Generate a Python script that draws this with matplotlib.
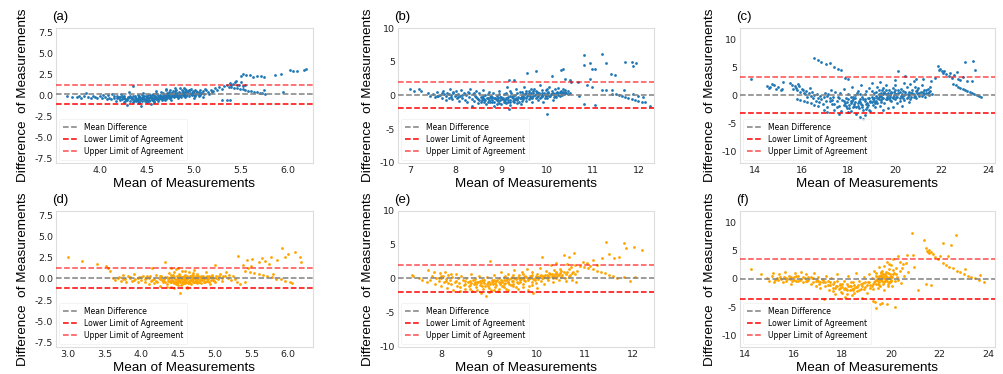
import matplotlib
matplotlib.use("Agg")
import matplotlib.pyplot as plt

plt.rcParams["axes.unicode_minus"] = False

# ---------------- data ----------------
pts_a = [
    (3.65,-0.1),(3.7,-0.15),(3.75,-0.2),(3.78,-0.05),(3.8,-0.25),(3.83,-0.1),(3.85,0.3),(3.87,-0.2),(3.9,-0.3),
    (3.92,0.0),(3.95,-0.15),(3.97,-0.35),(4.0,-0.1),(4.02,-0.3),(4.03,0.1),(4.05,-0.2),(4.07,-0.45),(4.08,0.05),
    (4.1,-0.25),(4.12,-0.4),(4.13,0.15),(4.15,-0.1),(4.17,-0.6),(4.18,-0.3),(4.2,-0.15),(4.21,-0.5),(4.22,0.2),
    (4.24,-0.35),(4.25,-0.8),(4.26,-0.05),(4.28,-0.45),(4.29,-1.1),(4.3,-0.2),(4.31,0.4),(4.32,-0.6),(4.33,-0.3),
    (4.35,1.1),(4.35,-0.1),(4.36,-0.5),(4.38,-0.7),(4.38,-0.25),(4.4,-0.4),(4.4,0.1),(4.41,-0.9),(4.42,-0.15),
    (4.43,-0.55),(4.44,-1.3),(4.45,-0.3),(4.46,0.3),(4.47,-0.45),(4.48,-0.65),(4.49,-0.1),(4.5,-0.35),(4.5,-0.8),
    (4.51,0.05),(4.52,-0.5),(4.53,-0.2),(4.54,-1.0),(4.55,-0.4),(4.56,0.2),(4.57,-0.6),(4.58,-0.25),(4.59,-0.05),
    (4.6,-0.45),(4.6,0.5),(4.61,-0.3),(4.62,-0.7),(4.63,-0.1),(4.64,0.1),(4.65,-0.35),(4.66,-0.55),(4.67,0.3),
    (4.68,-0.2),(4.69,0.0),(4.7,-0.4),(4.7,0.6),(4.71,-0.15),(4.72,0.2),(4.73,-0.3),(4.74,0.4),(4.75,-0.05),
    (4.76,-0.5),(4.77,0.1),(4.78,0.5),(4.79,-0.2),(4.8,0.3),(4.8,-0.1),(4.81,0.7),(4.82,0.0),(4.83,-0.3),
    (4.84,0.45),(4.85,0.15),(4.86,-0.15),(4.87,0.6),(4.88,0.25),(4.89,0.9),(4.9,0.05),(4.9,0.4),(4.91,-0.2),
    (4.92,0.7),(4.93,0.2),(4.94,0.5),(4.95,-0.1),(4.96,0.35),(4.97,0.8),(4.98,0.1),(4.99,0.55),(5.0,0.3),
    (5.0,-0.3),(5.01,0.65),(5.02,0.15),(5.03,0.45),(5.05,0.0),(5.06,0.6),(5.08,0.25),(5.1,0.5),(5.1,-0.2),
    (5.12,0.8),(5.15,0.4),(5.18,0.7),(5.2,0.55),(5.22,0.9),(5.25,0.65),(5.27,1.0),(5.3,0.8),(5.32,1.1),
    (5.35,1.3),(5.37,1.0),(5.38,1.5),(5.4,1.2),(5.42,1.4),(5.44,1.6),(5.46,1.3),(5.45,1.7),(5.5,1.55),
    (5.48,1.2),(5.52,1.1),(5.55,1.3),(5.3,-0.5),(5.35,-0.55),(5.38,-0.5),
    (5.5,2.3),(5.52,2.55),(5.56,2.4),(5.6,2.45),(5.63,2.2),(5.67,2.35),(5.72,2.3),(5.75,2.25),
    (5.75,0.6),(5.95,0.4),(5.93,2.5),(5.87,2.4),(6.02,3.0),(6.06,2.85),(6.1,2.9),(6.17,3.05),(6.2,3.1),
    (5.40,0.95),(5.43,0.9),(5.46,0.85),(5.49,0.78),(5.52,0.72),(5.55,0.65),(5.58,0.58),(5.61,0.52),
    (5.64,0.45),(5.67,0.38),(5.70,0.32),(5.73,0.26),(5.76,0.2),
    (4.21,-0.2),(4.23,-0.4),(4.26,-0.25),(4.29,-0.5),(4.31,-0.15),(4.34,-0.4),(4.37,-0.3),(4.39,-0.55),
    (4.41,-0.2),(4.43,-0.35),(4.45,-0.6),(4.46,-0.15),(4.48,-0.4),(4.5,-0.2),(4.52,-0.3),(4.54,-0.15),
    (4.55,-0.5),(4.57,-0.35),(4.59,-0.2),(4.61,-0.45),(4.62,-0.1),(4.64,-0.3),(4.65,-0.15),(4.67,-0.4),
    (4.68,0.05),(4.7,-0.25),(4.72,-0.05),(4.73,0.15),(4.75,-0.3),(4.76,0.25),(4.78,-0.1),(4.79,0.1),
    (4.81,-0.05),(4.82,0.35),(4.84,0.1),(4.85,-0.1),(4.87,0.3),(4.88,0.05),(4.9,0.2),(4.92,0.0),(4.93,0.45),
    (4.95,0.15),(4.96,0.6),(4.98,0.3),(5.0,0.1),(5.02,0.5),(5.04,0.2),(4.55,0.1),(4.6,0.25),(4.65,0.4),
    (4.45,0.05),(4.4,-0.65),(4.35,-0.75),(4.5,-0.6),(4.58,-0.75),(4.7,0.8),(4.75,0.7),(4.8,0.9),(4.85,0.85),
    (4.9,0.75),
    (4.15,-0.3),(4.18,-0.1),(4.2,-0.35),(4.23,-0.05),(4.25,-0.3),(4.27,-0.6),(4.3,-0.35),(4.32,-0.05),
    (4.34,-0.25),(4.36,-0.6),(4.37,0.0),(4.39,-0.4),(4.41,-0.05),(4.42,-0.75),(4.44,-0.25),(4.46,-0.45),
    (4.47,-0.05),(4.49,-0.5),(4.51,-0.25),(4.52,-0.7),(4.53,0.1),(4.55,-0.25),(4.56,-0.5),(4.58,0.0),
    (4.6,-0.3),(4.61,0.15),(4.63,-0.4),(4.64,-0.2),(4.66,0.0),(4.67,-0.3),(4.69,-0.5),(4.7,0.05),(4.71,0.35),
    (4.73,-0.15),(4.74,0.05),(4.76,-0.2),(4.77,0.3),(4.79,0.0),(4.8,0.5),(4.82,0.2),(4.83,-0.15),(4.85,0.35),
    (4.86,0.05),(4.88,0.5),(4.89,-0.1),(4.91,0.3),(4.92,0.1),(4.94,0.3),(4.95,0.6),(4.97,0.2),(4.99,0.4),
    (5.01,0.0),(5.03,0.25),(5.05,0.4),(5.07,0.1),(5.09,0.35),(5.11,0.15),(5.13,0.6),(5.16,0.2),(5.19,0.45),
]

pts_b = [
    (7.0,1.0),(7.1,0.7),(7.2,0.9),(7.25,0.6),(7.4,0.3),(7.45,0.0),(7.5,0.2),(7.55,-0.2),(7.6,0.5),(7.62,-0.1),
    (7.65,0.1),(7.7,-0.4),(7.72,0.7),(7.75,0.2),(7.78,-0.6),(7.8,0.0),(7.82,0.4),(7.85,-0.3),(7.88,0.9),(7.9,0.1),
    (7.92,-0.5),(7.95,0.3),(7.98,-0.1),(8.0,0.6),(8.02,-0.4),(8.05,0.2),(8.08,-0.8),(8.1,0.0),(8.12,0.8),
    (8.15,-0.3),(8.18,0.4),(8.2,-0.6),(8.22,0.1),(8.25,-1.0),(8.28,0.5),(8.3,-0.2),(8.32,0.9),(8.35,-0.5),
    (8.36,-1.6),(8.38,0.2),(8.4,-0.8),(8.42,0.0),(8.45,0.6),(8.47,-0.4),(8.5,-1.1),(8.52,0.3),(8.55,-0.2),
    (8.57,-0.7),(8.6,0.8),(8.62,-0.5),(8.65,0.1),(8.67,-1.3),(8.7,-0.3),(8.72,0.5),(8.75,-0.9),(8.77,-0.1),
    (8.8,-0.6),(8.82,0.3),(8.85,-1.5),(8.87,-0.4),(8.9,0.0),(8.92,-0.8),(8.95,0.6),(8.97,-0.2),(9.0,-1.2),
    (9.02,-0.5),(9.05,0.2),(9.07,-0.9),(9.1,-0.3),(9.12,1.2),(9.15,-0.6),(9.16,-2.0),(9.18,0.0),(9.2,-1.4),
    (9.22,0.4),(9.25,-0.4),(9.27,-1.0),(9.3,0.1),(9.32,0.9),(9.35,-0.7),(9.37,-0.2),(9.4,0.5),(9.42,-1.2),
    (9.45,0.0),(9.47,-0.5),(9.5,1.3),(9.52,0.2),(9.55,-0.8),(9.57,-0.1),(9.6,0.7),(9.62,-0.4),(9.65,0.3),
    (9.67,-1.0),(9.7,0.0),(9.72,1.0),(9.75,-0.3),(9.77,0.5),(9.8,-0.6),(9.82,0.2),(9.85,1.5),(9.87,-0.2),
    (9.9,0.4),(9.92,-0.9),(9.95,0.1),(9.97,0.8),(10.0,-0.4),(10.02,0.3),(10.05,1.2),(10.07,-0.1),(10.1,0.6),
    (10.12,-0.6),(10.15,0.2),(10.18,0.9),(10.2,-0.2),(10.22,0.5),(10.25,1.1),(10.28,0.0),(10.3,0.7),
    (10.33,0.3),(10.36,0.9),(10.4,0.5),(10.45,0.2),
    (9.16,2.35),(9.27,2.25),(9.56,3.35),(9.75,3.6),(10.11,2.85),(10.3,3.75),(10.36,3.9),(10.4,2.4),(10.5,2.25),
    (10.8,5.95),(10.8,4.5),(10.95,4.75),(10.98,4.0),(11.05,4.0),(11.2,6.15),(11.3,4.75),(11.4,3.15),(11.48,3.0),
    (11.7,4.9),(11.85,4.9),(11.89,4.4),(11.95,4.75),(10.53,2.0),(10.68,2.0),(10.87,1.5),(10.95,2.5),(10.98,1.25),
    (11.2,0.85),(11.28,0.75),(11.43,0.85),(11.68,0.75),(11.89,0.25),(12.0,0.0),(12.1,-0.25),(12.25,-1.5),
    (10.8,-1.25),(11.06,-1.35),(10.0,-2.75),(10.7,0.0),
    (11.43,0.25),(11.5,0.15),(11.57,0.05),(11.64,-0.05),(11.71,-0.15),(11.78,-0.3),(11.85,-0.45),
    (11.92,-0.6),(12.0,-0.75),(12.08,-0.9),(12.15,-1.0),
    (8.5,-0.5),(8.55,-0.9),(8.6,-0.1),(8.65,-0.6),(8.7,-1.0),(8.75,-0.2),(8.8,-0.9),(8.85,-0.3),(8.9,-0.7),
    (8.95,-1.1),(9.0,-0.2),(9.05,-0.7),(9.1,-1.1),(9.15,-0.2),(9.2,-0.7),(9.25,0.0),(9.3,-0.5),(9.35,-1.1),
    (9.4,-0.3),(9.45,-0.8),(9.5,-0.2),(9.55,0.4),(9.6,-0.5),(9.65,-0.2),(9.7,0.4),(9.75,0.2),(9.8,0.0),
    (9.85,-0.4),(9.9,0.1),(9.95,-0.3),(10.0,0.3),(10.05,0.0),(10.1,0.2),(10.15,-0.2),(10.2,0.4),(10.25,0.1),
    (10.3,0.3),(9.55,0.7),(9.65,0.9),(9.75,0.7),(9.9,0.8),(10.0,1.0),(9.45,0.5),(9.35,0.4),(9.2,0.6),
    (9.1,0.3),(8.95,0.2),(8.7,0.2),(8.4,0.4),(8.2,0.2),(8.0,0.1),(7.9,-0.2),(10.35,0.5),(10.4,0.8),
    (10.45,0.6),(10.5,0.4),
    (8.52,-0.7),(8.58,-0.3),(8.63,-0.9),(8.68,-0.4),(8.73,-0.7),(8.78,-0.4),(8.83,-1.0),(8.88,-0.5),
    (8.93,-0.4),(8.98,-0.7),(9.03,-0.3),(9.08,-0.6),(9.13,-0.4),(9.18,-0.9),(9.23,-0.2),(9.28,-0.6),
    (9.33,-0.3),(9.38,-0.9),(9.43,-0.4),(9.48,0.2),(9.53,-0.4),(9.58,0.1),(9.63,0.0),(9.68,-0.4),(9.73,0.1),
    (9.78,-0.2),(9.83,0.3),(9.88,0.0),(9.93,0.3),(9.98,-0.1),(10.03,0.5),(10.08,0.2),(10.13,0.4),(10.18,0.0),
    (10.23,0.3),(10.28,0.5),(10.33,0.1),(10.38,0.2),(9.6,0.4),(9.7,0.6),(9.8,0.4),(9.9,-0.1),(10.0,0.1),
    (9.45,-0.2),(9.35,-0.5),(9.25,-0.8),(9.15,-1.0),(9.05,-1.0),(8.9,-1.2),(8.8,-0.2),(8.6,-0.4),(8.45,-0.2),
    (8.3,0.3),(8.15,0.1),(8.05,-0.2),(7.95,0.5),(7.85,0.2),(7.7,0.3),(7.6,0.0),(10.42,0.3),
]

pts_c = [
    (13.85,3.0),(14.5,1.65),(14.6,1.3),(14.65,1.5),(14.75,2.0),(14.8,1.9),(14.9,1.2),(15.0,1.5),(15.1,1.0),
    (15.15,1.2),(15.2,2.4),(15.5,2.2),(15.6,1.8),(15.65,1.2),(15.7,1.65),(15.75,1.4),(15.8,0.9),(15.85,2.0),
    (15.9,1.75),(15.95,0.7),(16.0,1.2),(16.05,1.05),(16.1,0.5),(16.15,0.2),(16.2,0.8),(16.25,-0.3),(16.3,0.4),
    (16.35,1.3),(16.4,-0.1),(16.45,0.6),(16.5,-0.5),(16.55,0.1),(16.6,-0.9),(16.65,0.3),(16.7,-0.4),
    (16.75,-1.2),(16.8,0.0),(16.85,-0.7),(16.9,-1.5),(16.95,-0.2),
    (15.8,-0.6),(15.95,-0.8),(16.1,-1.0),(16.25,-1.2),(16.4,-1.4),(16.55,-1.7),(16.7,-1.9),
    (16.55,6.7),(16.7,6.3),(16.85,6.0),(17.05,5.6),(17.2,5.7),(17.4,5.0),(17.55,4.8),(17.7,4.6),(17.85,3.2),(18.0,2.9),
    (17.0,0.5),(17.05,-1.0),(17.1,-2.0),(17.15,0.2),(17.2,-0.5),(17.25,1.0),(17.3,-1.5),(17.35,-0.2),(17.4,-2.5),
    (17.45,0.6),(17.5,-1.0),(17.55,-0.3),(17.6,-1.8),(17.65,0.4),(17.7,-2.8),(17.75,-0.8),(17.8,1.2),
    (17.85,-1.3),(17.9,-0.4),(17.95,-2.2),(18.0,0.2),(18.05,-1.6),(18.1,-0.9),(18.12,-2.7),(18.15,1.5),
    (18.2,-0.6),(18.25,-1.9),(18.3,-1.1),(18.35,-3.3),(18.38,0.4),(18.4,-1.4),(18.45,-2.3),(18.5,-0.7),
    (18.52,-3.8),(18.55,1.9),(18.58,-1.7),(18.6,-0.2),(18.62,-4.1),(18.65,-2.6),(18.7,-1.0),(18.75,0.8),
    (18.78,-1.5),(18.8,-2.1),(18.85,-0.5),(18.9,1.3),(18.92,-1.2),(18.95,-2.8),(19.0,-0.3),(19.02,2.2),
    (19.05,-1.6),(19.1,0.5),(19.12,-0.9),(19.15,-2.0),(19.2,-0.1),(19.22,1.6),(19.25,-1.3),(19.3,0.3),
    (19.32,-0.6),(19.35,2.4),(19.38,-1.8),(19.4,0.0),(19.42,-0.8),(19.45,1.0),(19.5,-0.4),(19.52,0.6),
    (19.55,-1.4),(19.6,0.2),(19.62,1.8),(19.65,-0.7),(19.7,0.1),(19.72,-2.2),(19.75,0.9),(19.8,-0.3),
    (19.82,0.4),(19.85,-1.0),(19.9,1.4),(19.92,-0.2),(19.95,0.7),(20.0,-0.6),(20.02,2.7),(20.05,0.2),
    (20.1,-1.3),(20.12,4.4),(20.15,0.5),(20.2,-0.4),(20.25,1.1),(20.3,-0.1),(20.35,0.8),(20.4,-0.8),
    (20.43,3.4),(20.45,0.3),(20.5,1.6),(20.55,-0.3),(20.6,0.6),(20.65,2.0),(20.7,-0.2),(20.75,1.0),
    (20.8,0.2),(20.85,1.5),(20.9,-0.5),(20.95,0.4),(21.0,1.3),(21.05,0.0),(21.1,0.7),(21.15,1.8),(21.2,0.2),
    (21.25,0.9),(21.3,-0.2),(21.35,0.5),(21.4,1.2),(21.45,0.1),(21.5,0.8),(21.55,2.5),(21.6,0.3),
    (21.85,5.2),(21.9,4.6),(21.95,4.8),(22.0,4.3),(22.05,4.0),(22.1,4.4),(22.2,3.8),(22.3,3.5),(22.35,4.0),
    (22.45,3.2),(22.55,3.6),(22.65,4.2),(22.7,3.0),(22.8,2.8),(22.9,3.3),(23.0,6.0),(23.1,2.6),(23.35,6.2),
    (23.45,4.6),(23.3,2.5),
    (22.5,2.0),(22.6,1.8),(22.7,1.6),(22.8,1.4),(22.9,1.2),(23.0,1.0),(23.1,0.8),(23.2,0.6),(23.3,0.4),
    (23.4,0.2),(23.5,0.05),(23.6,-0.1),(23.7,-0.3),
    (17.6,-0.5),(17.8,-1.0),(17.9,-1.8),(18.0,-0.6),(18.1,-1.3),(18.2,-2.1),(18.3,-0.4),(18.4,-1.8),
    (18.5,-1.2),(18.6,-2.0),(18.7,-0.6),(18.8,-1.3),(18.9,-0.4),(19.0,-1.1),(19.1,-0.4),(19.2,-1.0),
    (19.3,-0.3),(19.4,0.5),(19.5,0.2),(19.6,-0.6),(19.7,0.5),(19.8,0.1),(19.9,-0.5),(20.0,0.3),(20.1,-0.2),
    (20.2,0.6),(20.3,0.3),(20.4,0.1),(20.5,-0.4),(20.6,0.1),(20.7,0.5),(20.8,-0.3),(20.9,0.8),(21.0,0.2),
    (21.2,0.6),(21.4,0.4),(19.5,1.4),(19.3,1.0),(19.0,0.8),(18.7,0.3),(18.4,0.8),(18.2,-0.2),(17.4,-1.5),
    (17.2,-1.0),(16.95,-2.5),(17.1,-3.0),(17.6,-3.2),(18.0,-3.0),(18.7,-3.4),(19.5,-2.6),(19.9,-2.0),
    (20.3,-1.8),(20.6,-1.2),(20.0,1.9),(20.4,2.3),(20.8,2.6),(21.2,2.9),(21.5,1.5),(21.7,3.2),(20.9,3.0),
    (17.8,-1.6),(17.95,-1.2),(18.05,-2.3),(18.15,-0.9),(18.25,-1.5),(18.35,-2.0),(18.45,-1.0),(18.55,-1.5),
    (18.65,-0.6),(18.75,-2.4),(18.85,-1.6),(18.95,-1.0),(19.05,-0.6),(19.15,-1.3),(19.25,-0.4),(19.35,0.0),
    (19.45,-0.5),(19.55,0.4),(19.65,-0.2),(19.75,-0.4),(19.85,0.6),(19.95,0.1),(20.05,-0.3),(20.15,0.9),
    (20.25,0.0),(20.35,-0.4),(20.45,0.7),(20.55,0.3),(20.65,-0.6),(20.75,0.4),(20.85,0.0),(20.95,1.0),
    (21.05,0.5),(21.15,-0.1),(21.25,0.3),(21.35,1.0),(21.45,0.6),(19.2,0.6),(19.4,-1.2),(19.6,0.9),
    (19.8,-0.8),(20.0,1.0),(20.2,-0.9),(18.3,0.1),(18.5,0.3),(18.9,-2.5),(18.1,-0.3),(17.5,-2.0),(17.3,-0.8),
    (17.1,0.0),
]

pts_d = [
    (3.0,2.6),(3.19,2.1),(3.4,1.75),(3.52,1.5),(3.55,1.3),(3.58,0.9),(3.62,0.1),(3.65,-0.1),(3.7,0.2),(3.72,-0.2),
    (3.75,0.5),(3.78,0.0),(3.8,-0.3),(3.82,0.3),(3.85,0.1),(3.88,-0.2),(3.9,0.6),(3.92,0.0),(3.95,-0.4),
    (3.97,0.2),(4.0,-0.1),(4.02,0.4),(4.05,-0.3),(4.07,0.1),(4.1,-0.6),(4.12,0.3),(4.13,-0.2),(4.15,1.3),
    (4.17,0.0),(4.18,-0.5),(4.2,0.5),(4.22,-0.3),(4.24,0.1),(4.25,-0.8),(4.27,0.3),(4.28,-0.1),(4.3,-0.4),
    (4.32,1.95),(4.33,0.2),(4.35,-0.6),(4.36,0.0),(4.38,0.7),(4.39,-0.3),(4.4,-0.9),(4.41,0.2),(4.42,-0.1),
    (4.43,0.5),(4.45,-0.5),(4.46,0.0),(4.47,1.2),(4.48,-0.3),(4.49,0.3),(4.5,-0.7),(4.5,0.1),(4.51,-0.2),
    (4.52,0.6),(4.53,-1.6),(4.53,-0.4),(4.54,0.0),(4.55,1.0),(4.56,-0.6),(4.57,0.2),(4.58,-0.2),(4.59,0.4),
    (4.6,-0.5),(4.61,0.0),(4.62,-0.9),(4.63,0.3),(4.64,-0.3),(4.65,0.8),(4.66,-0.1),(4.67,0.2),(4.68,-0.6),
    (4.69,0.5),(4.7,-0.2),(4.71,0.0),(4.72,1.1),(4.73,-0.4),(4.74,0.3),(4.75,-0.1),(4.76,0.6),(4.78,-0.3),
    (4.8,0.2),(4.82,-0.5),(4.84,0.4),(4.86,0.0),(4.88,0.8),(4.9,-0.2),(4.92,0.3),(4.94,-0.6),(4.96,0.5),
    (4.98,0.1),(5.0,1.7),(5.0,-0.3),(5.02,0.4),(5.05,0.0),(5.08,0.6),(5.1,-0.2),(5.12,0.3),(5.15,0.8),
    (5.18,0.1),(5.2,0.5),(5.22,-0.1),(5.25,0.4),(5.28,0.0),(5.3,-0.4),(5.35,-0.6),
    (5.32,2.7),(5.39,1.6),(5.44,2.2),(5.51,2.4),(5.6,2.0),(5.65,2.5),(5.69,2.1),(5.74,1.8),(5.77,2.6),
    (5.85,2.2),(5.92,3.7),(5.96,2.6),(6.0,2.9),(6.09,3.2),(6.16,2.6),(6.18,2.0),(5.8,0.6),(5.42,-0.35),
    (5.45,1.3),(5.5,1.5),
    (5.42,1.0),(5.48,0.85),(5.54,0.75),(5.6,0.6),(5.66,0.5),(5.72,0.35),(5.78,0.2),(5.84,0.05),(5.9,-0.05),
    (5.96,-0.2),(6.02,-0.35),(6.06,-0.45),
    (4.2,-0.2),(4.25,0.0),(4.3,-0.2),(4.35,0.2),(4.4,-0.4),(4.42,0.3),(4.44,-0.2),(4.47,-0.6),(4.49,0.0),
    (4.5,-0.3),(4.52,-0.1),(4.54,-0.7),(4.55,0.2),(4.57,-0.4),(4.58,0.0),(4.6,-0.2),(4.62,0.1),(4.64,-0.5),
    (4.66,0.3),(4.68,-0.1),(4.7,0.2),(4.72,-0.3),(4.74,0.0),(4.76,-0.5),(4.78,0.3),(4.8,-0.1),(4.82,0.1),
    (4.85,-0.3),(4.88,0.2),(4.9,0.0),(4.92,-0.3),(4.95,0.2),(4.98,-0.1),(5.02,0.1),(5.06,0.3),(5.1,0.1),
    (5.14,0.4),(4.45,0.8),(4.6,0.9),(4.4,1.3),(4.5,1.3),(4.7,0.7),(4.35,-0.9),(4.45,-1.0),(4.62,-1.1),
    (4.0,0.2),(4.05,0.0),(3.9,-0.1),(3.85,0.2),(4.1,0.1),
    (4.31,0.0),(4.33,-0.4),(4.36,-0.2),(4.38,0.1),(4.4,-0.1),(4.43,-0.4),(4.45,0.2),(4.47,-0.2),(4.49,-0.5),
    (4.51,0.1),(4.53,0.3),(4.55,-0.3),(4.56,-0.05),(4.58,-0.5),(4.6,0.15),(4.61,-0.35),(4.63,0.0),(4.65,-0.2),
    (4.67,-0.45),(4.69,0.1),(4.71,-0.3),(4.73,0.15),(4.75,-0.2),(4.77,0.05),(4.79,-0.4),(4.81,0.3),
    (4.83,-0.15),(4.85,0.1),(4.87,-0.4),(4.89,0.3),(4.91,0.0),(4.93,0.2),(4.95,-0.1),(4.97,0.3),(4.99,-0.2),
    (4.6,0.5),(4.5,0.4),(4.7,0.5),(4.4,0.5),(4.25,0.3),(4.15,-0.1),(4.08,0.3),(3.95,0.1),(3.75,0.0),(3.68,0.1),
]

pts_e = [
    (7.39,0.6),(7.42,0.45),(7.53,0.1),(7.6,-0.2),(7.7,-0.4),(7.72,1.3),(7.77,-0.15),(7.8,0.5),(7.84,1.0),
    (7.88,-0.7),(7.9,0.2),(7.95,-0.3),(7.98,0.9),(8.0,-1.0),(8.03,0.4),(8.05,-0.5),(8.08,1.0),(8.1,0.0),
    (8.13,-1.3),(8.15,0.6),(8.18,-0.2),(8.2,-0.8),(8.22,0.3),(8.25,-1.6),(8.28,-0.4),(8.3,0.8),(8.32,-1.1),
    (8.35,0.1),(8.38,-0.6),(8.4,-1.8),(8.42,0.5),(8.45,-0.2),(8.48,-0.9),(8.5,-1.4),(8.52,0.2),(8.55,-0.5),
    (8.58,-1.0),(8.6,-0.3),(8.62,0.7),(8.65,-1.7),(8.68,-0.7),(8.7,0.0),(8.72,-1.2),(8.75,-0.4),(8.78,0.4),
    (8.8,-0.9),(8.82,-2.0),(8.85,-0.2),(8.88,-1.4),(8.9,-0.6),(8.93,-2.5),(8.95,0.3),(8.97,-1.0),(9.0,-0.4),
    (9.02,2.7),(9.03,-1.6),(9.05,-0.1),(9.08,-0.8),(9.1,0.6),(9.12,-1.2),(9.15,-0.3),(9.18,-1.8),(9.2,0.1),
    (9.22,-0.6),(9.25,1.0),(9.27,-1.0),(9.3,-0.2),(9.32,0.4),(9.35,-1.4),(9.38,-0.5),(9.4,0.8),(9.42,0.0),
    (9.45,-0.9),(9.48,0.3),(9.5,-0.3),(9.52,1.3),(9.55,-1.2),(9.58,0.1),(9.6,-0.6),(9.62,0.6),(9.65,-0.1),
    (9.68,1.0),(9.7,-0.8),(9.72,0.3),(9.75,-0.3),(9.78,1.5),(9.8,0.0),(9.82,-1.0),(9.85,0.5),(9.88,-0.4),
    (9.9,1.1),(9.92,-2.1),(9.95,0.2),(9.98,-0.6),(10.0,0.8),(10.02,0.0),(10.05,1.6),(10.08,-0.3),(10.1,3.3),
    (10.12,0.5),(10.15,-0.8),(10.18,1.2),(10.2,0.2),(10.22,-0.2),(10.25,0.9),(10.28,2.0),(10.3,0.4),
    (10.33,-0.5),(10.35,1.3),(10.38,0.1),(10.4,2.4),(10.42,0.7),(10.45,-0.1),(10.48,1.5),(10.5,0.3),
    (10.55,3.55),(10.55,1.0),(10.6,-0.3),(10.62,2.2),(10.65,3.3),(10.68,0.6),(10.7,1.8),(10.72,-0.2),
    (10.76,3.8),(10.78,0.8),(10.8,-0.4),(10.82,1.2),
    (11.03,2.3),(11.17,2.8),(11.24,2.1),(11.35,3.1),(11.44,5.5),(11.49,3.65),(11.6,3.1),(11.7,3.2),
    (11.81,5.3),(11.85,4.6),(12.02,4.7),(12.19,4.2),(11.8,0.35),(11.94,-0.3),(12.04,0.35),(10.95,2.5),(11.1,1.9),
    (10.79,2.1),(10.88,1.9),(10.97,1.75),(11.06,1.6),(11.15,1.4),(11.24,1.25),(11.33,1.05),(11.42,0.85),
    (11.5,0.65),(11.58,0.45),(11.66,0.2),
    (8.5,-0.3),(8.6,-0.9),(8.7,-0.5),(8.8,-0.3),(8.85,-1.1),(8.9,-0.2),(8.95,-0.8),(9.0,-1.3),(9.05,-0.5),
    (9.1,-0.2),(9.15,-0.9),(9.2,-0.5),(9.25,-0.2),(9.3,-0.8),(9.35,-0.1),(9.4,-0.5),(9.45,0.2),(9.5,-0.7),
    (9.55,0.0),(9.6,0.3),(9.65,-0.4),(9.7,0.2),(9.75,0.5),(9.8,-0.2),(9.85,0.2),(9.9,0.6),(9.95,-0.2),
    (10.0,0.3),(10.05,0.5),(10.1,0.1),(10.15,0.3),(10.2,0.6),(10.25,0.3),(10.3,0.8),(10.35,0.5),(10.4,1.0),
    (10.45,0.6),(10.5,1.2),(10.6,0.8),(10.65,1.4),(10.75,1.0),(9.3,0.3),(9.5,0.6),(9.7,0.8),(8.4,-1.2),
    (8.6,-1.5),(8.75,-1.6),(9.0,-1.9),(9.2,-1.5),(9.4,-1.6),(9.6,-1.4),(9.8,-1.6),(10.0,-1.3),(8.2,0.7),
    (8.0,0.5),(7.95,0.1),(8.1,-0.3),
    (8.62,-0.6),(8.67,-0.2),(8.72,-0.8),(8.77,-0.5),(8.82,-0.6),(8.87,-0.3),(8.92,-1.0),(8.97,-0.5),
    (9.02,-0.7),(9.07,-0.3),(9.12,-0.6),(9.17,-0.1),(9.22,-0.8),(9.27,-0.4),(9.32,-0.6),(9.37,0.0),
    (9.42,-0.7),(9.47,-0.3),(9.52,0.1),(9.57,-0.4),(9.62,0.2),(9.67,0.0),(9.72,-0.2),(9.77,0.3),(9.82,0.1),
    (9.87,0.4),(9.92,0.0),(9.97,0.4),(10.02,0.3),(10.07,0.6),(10.12,0.2),(10.17,0.6),(10.22,0.4),(10.27,0.7),
    (10.32,0.2),(10.37,0.8),(10.42,0.4),(10.47,0.9),(10.52,0.6),(10.57,0.2),(10.62,1.0),(10.67,0.4),
    (10.72,0.9),(9.1,-1.6),(9.3,-1.2),(9.5,-1.0),(9.7,-1.2),(9.9,-0.9),(8.5,-0.8),(8.3,-0.3),(8.15,-0.6),
    (8.0,0.2),
]

pts_f = [
    (14.25,1.75),(14.68,0.8),(14.9,0.2),(15.0,-0.3),(15.1,0.5),(15.15,1.0),(15.2,-0.5),(15.3,0.2),(15.35,-0.2),
    (15.4,0.8),(15.5,0.0),(15.55,-0.6),(15.6,0.4),(15.65,1.2),(15.7,-0.3),(15.8,0.6),(15.85,0.0),(15.9,-0.8),
    (16.0,0.3),(16.05,1.0),(16.1,-0.4),(16.2,0.5),(16.25,-0.1),(16.3,1.3),(16.4,-0.6),(16.45,0.2),(16.5,0.8),
    (16.55,-0.3),(16.6,0.4),(16.7,-0.9),(16.75,0.1),(16.8,-0.5),(16.85,1.1),(16.9,-1.2),(16.95,-0.2),
    (17.0,0.4),(17.05,-0.8),(17.1,-1.6),(17.15,0.0),(17.2,-0.6),(17.25,-3.5),(17.3,-1.2),(17.35,0.5),
    (17.4,-0.4),(17.45,-2.0),(17.5,-1.0),(17.55,0.2),(17.6,-1.5),(17.65,-0.6),(17.7,-2.6),(17.75,-1.2),
    (17.8,0.8),(17.85,-1.8),(17.9,-0.8),(17.95,-2.3),(18.0,-1.4),(18.05,-0.3),(18.1,-3.1),(18.15,-1.7),
    (18.2,-0.9),(18.25,0.6),(18.3,-2.0),(18.35,-1.2),(18.4,-2.8),(18.45,-0.5),(18.5,-1.6),(18.55,1.0),
    (18.6,-2.2),(18.65,-1.0),(18.7,-0.3),(18.75,-1.8),(18.8,-3.4),(18.85,-0.7),(18.9,0.4),(18.95,-1.4),
    (19.0,-2.5),(19.05,-0.5),(19.1,0.8),(19.15,-1.0),(19.2,0.2),(19.25,-1.8),(19.3,1.5),(19.35,-0.3),
    (19.4,0.5),(19.45,-0.8),(19.5,2.2),(19.52,0.0),(19.55,-1.2),(19.6,0.7),(19.62,-0.4),(19.65,1.4),
    (19.7,0.2),(19.72,-2.0),(19.75,0.9),(19.8,-0.2),(19.82,3.0),(19.85,0.4),(19.88,-0.9),(19.9,1.8),
    (19.92,0.1),(19.95,-0.5),(20.0,2.4),(20.02,0.6),(20.05,-1.2),(20.1,3.6),(20.12,1.1),(20.15,-0.3),
    (20.2,2.0),(20.25,0.3),(20.3,4.1),(20.35,1.5),(20.4,-0.7),(20.5,2.6),(20.55,0.5),(20.64,4.2),(20.7,1.2),
    (20.85,8.2),(20.9,4.2),(20.95,2.2),(21.1,-2.0),(21.45,-0.8),(21.65,-1.1),
    (19.27,-3.8),(19.34,-4.1),(19.4,-5.2),(19.55,-4.4),(19.65,-4.2),(19.82,-4.4),(20.16,-5.0),
    (21.37,6.8),(21.44,5.4),(21.51,4.8),(21.58,5.1),(21.64,4.7),(21.71,4.4),(21.82,3.9),(21.92,3.6),
    (22.12,6.3),(22.0,4.0),(22.34,4.1),(22.48,6.0),(22.68,7.8),(23.03,1.75),(23.65,0.7),(23.82,-0.5),
    (21.48,5.0),(21.55,4.6),
    (22.12,2.9),(22.25,2.5),(22.4,2.2),(22.55,1.9),(22.7,1.5),(22.85,1.2),(23.0,0.9),(23.15,0.6),(23.3,0.3),
    (23.45,0.1),(23.62,-0.1),
    (17.2,-0.2),(17.4,-1.1),(17.6,-0.8),(17.8,-1.3),(17.9,-1.6),(18.0,-0.9),(18.1,-1.5),(18.2,-1.9),
    (18.3,-1.3),(18.4,-1.7),(18.5,-1.0),(18.6,-1.4),(18.7,-2.0),(18.8,-1.2),(18.9,-1.8),(19.0,-1.0),
    (19.1,-0.6),(19.2,-1.3),(19.3,-0.5),(19.4,-0.2),(19.45,0.3),(19.5,-0.5),(19.55,0.6),(19.6,-0.1),
    (19.65,0.3),(19.7,-0.6),(19.75,0.0),(19.8,0.6),(19.85,-0.3),(19.9,0.2),(19.95,0.9),(20.0,-0.2),
    (20.05,0.4),(20.1,1.6),(19.6,1.2),(19.5,-1.0),(19.4,1.1),(19.7,2.3),(19.9,2.6),(18.2,-2.6),(18.5,-2.5),
    (17.6,-2.2),(17.0,-0.3),(16.8,0.2),(16.6,-0.1),(16.4,0.3),(16.2,-0.3),(16.0,-0.1),(15.9,0.4),(15.7,0.2),
    (19.42,0.0),(19.47,-0.4),(19.52,0.5),(19.57,-0.2),(19.62,0.3),(19.67,-0.8),(19.72,0.5),(19.77,-0.3),
    (19.82,0.2),(19.87,1.0),(19.92,-0.6),(19.97,0.4),(20.02,-0.3),(20.07,0.8),(19.58,1.0),(19.68,0.8),
    (19.78,1.3),(19.88,-1.2),(19.48,-1.5),(19.38,-0.9),(17.5,-0.6),(17.7,-1.5),(17.9,-1.1),(18.05,-1.8),
    (18.25,-1.3),(18.45,-2.0),(18.55,-1.4),(18.75,-0.9),(18.95,-0.6),(19.15,-1.6),(19.25,-0.9),(18.35,-0.6),
    (18.0,-2.5),(17.8,-0.4),(17.3,-0.5),(17.1,-0.6),(16.9,-0.4),(16.7,0.3),(16.5,-0.4),(16.3,0.0),(16.1,0.5),
    (15.95,-0.3),(15.75,0.0),(15.45,0.4),(15.25,-0.1),(20.2,0.9),(20.3,-0.2),(20.45,1.9),(20.6,2.9),(20.35,3.0),
]

# mean difference and limits of agreement per panel
mean_diff = [0.12, 0.1, 0.05, 0.14, 0.1, 0.0]
lower_loa = [-0.95, -1.85, -3.13, -1.03, -1.88, -3.5]
upper_loa = [1.19, 2.05, 3.23, 1.31, 2.08, 3.5]

panel_labels = ["(a)", "(b)", "(c)", "(d)", "(e)", "(f)"]
xlims = [(3.53, 6.27), (6.74, 12.34), (13.36, 24.29), (2.84, 6.34), (7.1, 12.43), (13.8, 24.27)]
ylims = [(-8, 8), (-10, 10), (-12, 12), (-8, 8), (-10, 10), (-12, 12)]
xticks = [[4.0, 4.5, 5.0, 5.5, 6.0], [7, 8, 9, 10, 11, 12], [14, 16, 18, 20, 22, 24],
          [3.0, 3.5, 4.0, 4.5, 5.0, 5.5, 6.0], [8, 9, 10, 11, 12], [14, 16, 18, 20, 22, 24]]
yticks = [[-7.5, -5.0, -2.5, 0.0, 2.5, 5.0, 7.5], [-10, -5, 0, 5, 10], [-10, -5, 0, 5, 10],
          [-7.5, -5.0, -2.5, 0.0, 2.5, 5.0, 7.5], [-10, -5, 0, 5, 10], [-10, -5, 0, 5, 10]]
colors = ["#1f77b4", "#1f77b4", "#1f77b4", "orange", "orange", "orange"]
all_pts = [pts_a, pts_b, pts_c, pts_d, pts_e, pts_f]

# ---------------- figure ----------------
LABEL_FONT = ["Liberation Sans", "DejaVu Sans"]
fig = plt.figure(figsize=(10.04, 3.74), dpi=100)
W, H = 1004, 374
lefts = [56, 398, 740]
rows = [(28, 163), (211, 347)]
widths = [257, 256, 255]

for i in range(6):
    r, c = divmod(i, 3)
    top, bot = rows[r]
    ax = fig.add_axes([lefts[c] / W, 1 - bot / H, widths[c] / W, (bot - top) / H])
    xs = [p[0] for p in all_pts[i]]
    ys = [p[1] for p in all_pts[i]]
    ax.scatter(xs, ys, s=4, color=colors[i], linewidths=0, zorder=2)
    ax.axhline(mean_diff[i], color="gray", linestyle="--", linewidth=1.1, label="Mean Difference", zorder=3)
    ax.axhline(lower_loa[i], color="red", linestyle="--", linewidth=1.1, label="Lower Limit of Agreement", zorder=3)
    ax.axhline(upper_loa[i], color="red", linestyle="--", linewidth=1.1, alpha=0.7,
               label="Upper Limit of Agreement", zorder=3)
    ax.set_xlim(*xlims[i])
    ax.set_ylim(*ylims[i])
    ax.set_xticks(xticks[i])
    ax.set_yticks(yticks[i])
    ax.tick_params(length=0, labelsize=6.8, colors="#222222")
    ax.tick_params(axis="x", pad=2)
    ax.tick_params(axis="y", pad=2)
    for s in ax.spines.values():
        s.set_color("#dddddd")
        s.set_linewidth(0.8)
    ax.set_xlabel("Mean of Measurements", fontsize=9.7, family=LABEL_FONT, labelpad=2)
    ax.set_ylabel("Difference  of Measurements", fontsize=9.7, family=LABEL_FONT, labelpad=4)
    ax.text(-0.015, 1.035, panel_labels[i], transform=ax.transAxes, fontsize=9.5, family=LABEL_FONT,
            ha="left", va="bottom")
    leg = ax.legend(loc="lower left", fontsize=5.5, handlelength=2.0, frameon=True, borderpad=0.5,
                    labelspacing=0.4, borderaxespad=0.4)
    leg.get_frame().set_edgecolor("#eeeeee")
    leg.get_frame().set_linewidth(0.6)

fig.savefig("out.png", dpi=100)
